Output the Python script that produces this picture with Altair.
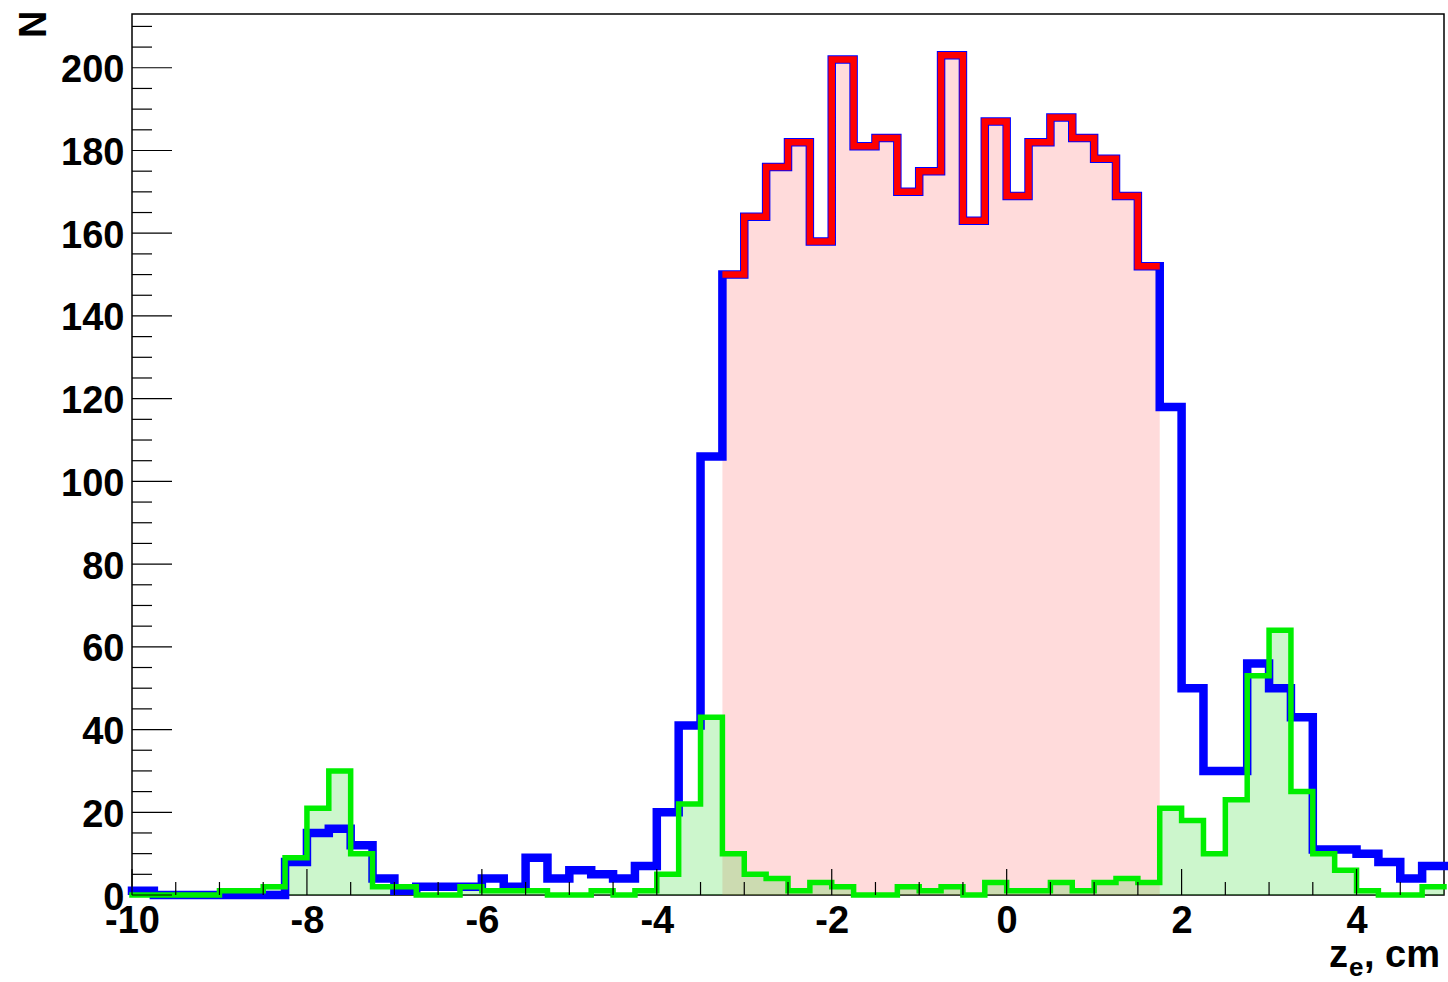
import altair as alt
import pandas as pd

# ---------------- data ----------------
BIN_START = -10.0
BIN_WIDTH = 0.25

# blue: all events, 60 bins from -10 to 5 cm
total_counts = [1, 0, 0, 0, 0, 0, 0, 8, 15, 16,
                12, 4, 1, 2, 2, 2, 4, 2, 9, 4,
                6, 5, 4, 7, 20, 41, 106, 150, 164, 176,
                182, 158, 202, 181, 183, 170, 175, 203, 163, 187,
                169, 182, 188, 183, 178, 169, 152, 118, 50, 30,
                30, 56, 50, 43, 11, 11, 10, 8, 4, 7]

# red: selected region, bins from -3.25 to 1.75 cm
SIGNAL_START = -3.25
signal_counts = [150, 164, 176, 182, 158, 202, 181, 183, 170, 175,
                 203, 163, 187, 169, 182, 188, 183, 178, 169, 152]

# green: second component, 60 bins from -10 to 5 cm
green_counts = [0, 0, 0, 0, 1, 1, 2, 9, 21, 30,
                10, 2, 2, 0, 0, 2, 1, 1, 1, 0,
                0, 1, 0, 1, 5, 22, 43, 10, 5, 4,
                1, 3, 2, 0, 0, 2, 1, 2, 0, 3,
                1, 1, 3, 1, 3, 4, 3, 21, 18, 10,
                23, 53, 64, 25, 10, 6, 1, 0, 0, 2]

x_major_ticks = [-10, -8, -6, -4, -2, 0, 2, 4]
x_minor_ticks = [-9.5, -9, -8.5, -7.5, -7, -6.5, -5.5, -5, -4.5, -3.5, -3, -2.5,
                 -1.5, -1, -0.5, 0.5, 1, 1.5, 2.5, 3, 3.5, 4.5]
y_major_ticks = [0, 20, 40, 60, 80, 100, 120, 140, 160, 180, 200]
y_minor_ticks = [v for v in range(5, 213, 5) if v % 20 != 0]

X_DOMAIN = [-10, 5]
Y_DOMAIN = [0, 213]

# ---------------- helpers ----------------
def step_table(counts, start):
    xs = [start + i * BIN_WIDTH for i in range(len(counts) + 1)]
    ys = list(counts) + [counts[-1]]
    return pd.DataFrame({"x": xs, "y": ys})


blue_df = step_table(total_counts, BIN_START)
red_df = step_table(signal_counts, SIGNAL_START)
green_df = step_table(green_counts, BIN_START)

W, H = 1312, 881
FONT = "Liberation Sans"

xscale = alt.Scale(domain=X_DOMAIN, nice=False, zero=False)
yscale = alt.Scale(domain=Y_DOMAIN, nice=False, zero=False)

xaxis = alt.Axis(
    values=x_major_ticks,
    labelExpr="datum.value < 0 ? '-' + abs(datum.value) : '' + datum.value",
    labelFont=FONT, labelFontSize=38, labelFontWeight="bold", labelColor="black",
    labelPadding=7, labelFlush=False, labelOverlap=False,
    ticks=False, tickSize=0, domain=False, grid=False, title=None,
)
yaxis = alt.Axis(
    values=y_major_ticks, format="d",
    labelFont=FONT, labelFontSize=38, labelFontWeight="bold", labelColor="black",
    labelPadding=8, labelFlush=False, labelOverlap=False, labelOffset=3,
    ticks=False, tickSize=0, domain=False, grid=False,
    title="N", titleFont=FONT, titleFontSize=38, titleFontWeight="bold",
    titleColor="black", titleAngle=270, titleAlign="right",
    titleBaseline="alphabetic", titleX=-87, titleY=-4,
)

X = alt.X("x:Q", scale=xscale, axis=xaxis)
Y = alt.Y("y:Q", scale=yscale, axis=yaxis)

red_fill = alt.Chart(red_df).mark_area(
    interpolate="step-after", color="#ff4d4d", opacity=0.2
).encode(x=X, y=Y, y2=alt.datum(0))

green_fill = alt.Chart(green_df).mark_area(
    interpolate="step-after", color="#33dd33", opacity=0.25
).encode(x=X, y=Y, y2=alt.datum(0))

blue_line = alt.Chart(blue_df).mark_line(
    interpolate="step-after", color="#0000ff", strokeWidth=8.5,
    strokeJoin="miter", strokeCap="square"
).encode(x=X, y=Y)

red_line = alt.Chart(red_df).mark_line(
    interpolate="step-after", color="#ff0000", strokeWidth=6.5,
    strokeJoin="miter", strokeCap="butt"
).encode(x=X, y=Y)

green_line = alt.Chart(green_df).mark_line(
    interpolate="step-after", color="#00ee00", strokeWidth=5.5,
    strokeJoin="miter", strokeCap="square"
).encode(x=X, y=Y)

# ticks drawn inside the frame (ROOT style)
ymaj = alt.Chart(pd.DataFrame({"y": y_major_ticks})).mark_rule(
    color="black", strokeWidth=1.2
).encode(y=Y, x=alt.value(0), x2=alt.value(40))
ymin = alt.Chart(pd.DataFrame({"y": y_minor_ticks})).mark_rule(
    color="black", strokeWidth=1.2
).encode(y=Y, x=alt.value(0), x2=alt.value(20))
xmaj = alt.Chart(pd.DataFrame({"x": x_major_ticks})).mark_rule(
    color="black", strokeWidth=1.2
).encode(x=X, y=alt.value(H), y2=alt.value(H - 26))
xmin = alt.Chart(pd.DataFrame({"x": x_minor_ticks})).mark_rule(
    color="black", strokeWidth=1.2
).encode(x=X, y=alt.value(H), y2=alt.value(H - 13))

# x-axis title  z_e, cm  (with subscript)
def title_part(txt, x, y, size, align):
    return alt.Chart(pd.DataFrame({"t": [txt]})).mark_text(
        font=FONT, fontSize=size, fontWeight="bold", color="black",
        align=align, baseline="alphabetic"
    ).encode(text="t:N", x=alt.value(x), y=alt.value(y))

t_z = title_part("z", 1197, 953, 38, "left")
t_e = title_part("e", 1217, 962, 26, "left")
t_cm = title_part(", cm", 1232, 953, 38, "left")

chart = alt.layer(
    red_fill, green_fill, blue_line, red_line, green_line,
    ymaj, ymin, xmaj, xmin, t_z, t_e, t_cm
).properties(
    width=W, height=H,
    autosize=alt.AutoSizeParams(type="none"),
    padding={"left": 132, "top": 14, "right": 4, "bottom": 87},
    background="white",
).configure_view(stroke="black", strokeWidth=1.5)

chart.save("out.html", embed_options={"renderer": "svg", "actions": False})
